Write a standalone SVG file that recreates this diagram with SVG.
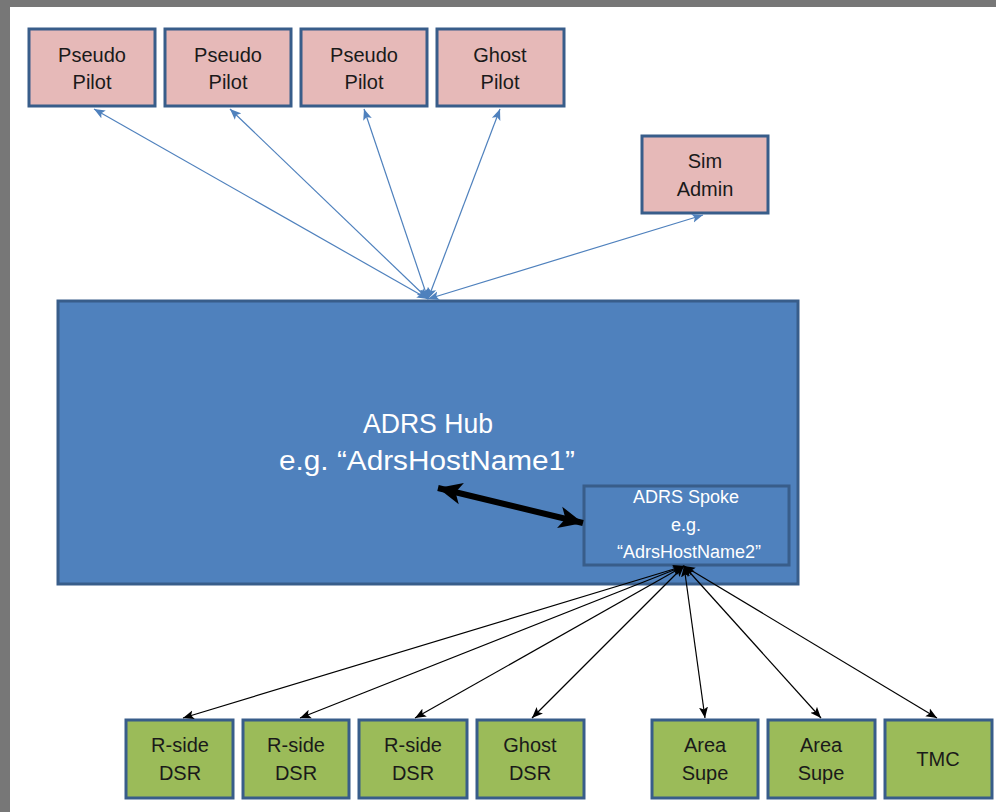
<svg xmlns="http://www.w3.org/2000/svg" width="996" height="812" viewBox="0 0 996 812">
<defs>
<style>
.pink{fill:#E6B9B8;stroke:#385D8A;stroke-width:3}
.green{fill:#9BBB59;stroke:#385D8A;stroke-width:3}
.hub{fill:#4F81BD;stroke:#385D8A;stroke-width:3}
.spoke{fill:#4F81BD;stroke:#385D8A;stroke-width:3}
.t{font-family:"Liberation Sans",Arial,sans-serif;font-size:20px;fill:#1a1a1a;text-anchor:middle}
.w{font-family:"Liberation Sans",Arial,sans-serif;fill:#ffffff;text-anchor:middle}
.bl{stroke:#4F81BD;stroke-width:1.2;fill:none;marker-start:url(#ab);marker-end:url(#ab)}
.bk{stroke:#000;stroke-width:1.2;fill:none;marker-start:url(#ak);marker-end:url(#ak)}
</style>
<marker id="ab" markerUnits="userSpaceOnUse" markerWidth="12" markerHeight="10" viewBox="0 -5 12 10" refX="11" refY="0" orient="auto-start-reverse">
<path d="M0,-4.5 L11,0 L0,4.5 L2.5,0 Z" fill="#4F81BD"/>
</marker>
<marker id="ak" markerUnits="userSpaceOnUse" markerWidth="12" markerHeight="10" viewBox="0 -5 12 10" refX="11" refY="0" orient="auto-start-reverse">
<path d="M0,-4.5 L11,0 L0,4.5 L2.5,0 Z" fill="#000"/>
</marker>
<marker id="at" markerUnits="userSpaceOnUse" markerWidth="26" markerHeight="26" viewBox="0 -13 26 26" refX="24" refY="0" orient="auto-start-reverse">
<path d="M0,-11 L24,0 L0,11 L6,0 Z" fill="#000"/>
</marker>
</defs>
<rect x="0" y="0" width="996" height="812" fill="#ffffff"/>
<rect x="0" y="0" width="996" height="7" fill="#777777"/>
<rect x="0" y="0" width="10" height="812" fill="#777777"/>

<g id="hub">
<rect class="hub" x="58" y="301" width="740" height="283"/>
<text class="w" font-size="27" x="428" y="433" textLength="130" lengthAdjust="spacingAndGlyphs">ADRS Hub</text>
<text class="w" font-size="27" x="427" y="470" textLength="296" lengthAdjust="spacingAndGlyphs">e.g. “AdrsHostName1”</text>
</g>
<g id="spoke">
<rect class="spoke" x="584" y="486" width="205" height="79"/>
<text class="w" font-size="18" x="686" y="503">ADRS Spoke</text>
<text class="w" font-size="18" x="686" y="531">e.g.</text>
<text class="w" font-size="18" x="689" y="558">“AdrsHostName2”</text>
</g>

<g id="pp1"><rect class="pink" x="29" y="29" width="126" height="77"/><text class="t" x="92" y="62">Pseudo</text><text class="t" x="92" y="89">Pilot</text></g>
<g id="pp2"><rect class="pink" x="165" y="29" width="126" height="77"/><text class="t" x="228" y="62">Pseudo</text><text class="t" x="228" y="89">Pilot</text></g>
<g id="pp3"><rect class="pink" x="301" y="29" width="126" height="77"/><text class="t" x="364" y="62">Pseudo</text><text class="t" x="364" y="89">Pilot</text></g>
<g id="gp"><rect class="pink" x="437" y="29" width="127" height="77"/><text class="t" x="500" y="62">Ghost</text><text class="t" x="500" y="89">Pilot</text></g>
<g id="sim"><rect class="pink" x="642" y="136" width="126" height="77"/><text class="t" x="705" y="168">Sim</text><text class="t" x="705" y="196">Admin</text></g>

<g id="r1"><rect class="green" x="126" y="720" width="107" height="78"/><text class="t" x="180" y="752">R-side</text><text class="t" x="180" y="780">DSR</text></g>
<g id="r2"><rect class="green" x="243" y="720" width="106" height="78"/><text class="t" x="296" y="752">R-side</text><text class="t" x="296" y="780">DSR</text></g>
<g id="r3"><rect class="green" x="359" y="720" width="108" height="78"/><text class="t" x="413" y="752">R-side</text><text class="t" x="413" y="780">DSR</text></g>
<g id="gd"><rect class="green" x="477" y="720" width="107" height="78"/><text class="t" x="530" y="752">Ghost</text><text class="t" x="530" y="780">DSR</text></g>
<g id="as1"><rect class="green" x="652" y="720" width="106" height="78"/><text class="t" x="705" y="752">Area</text><text class="t" x="705" y="780">Supe</text></g>
<g id="as2"><rect class="green" x="768" y="720" width="107" height="78"/><text class="t" x="821" y="752">Area</text><text class="t" x="821" y="780">Supe</text></g>
<g id="tmc"><rect class="green" x="885" y="720" width="107" height="78"/><text class="t" x="938" y="766">TMC</text></g>

<g id="connectors">
<line class="bl" x1="428" y1="299" x2="94" y2="109"/>
<line class="bl" x1="428" y1="299" x2="230" y2="109"/>
<line class="bl" x1="428" y1="299" x2="364" y2="109"/>
<line class="bl" x1="428" y1="299" x2="500" y2="109"/>
<line class="bl" x1="428" y1="299" x2="703" y2="215"/>
<line class="bk" x1="684" y1="566" x2="183" y2="718"/>
<line class="bk" x1="684" y1="566" x2="300" y2="718"/>
<line class="bk" x1="684" y1="566" x2="415" y2="718"/>
<line class="bk" x1="684" y1="566" x2="532" y2="718"/>
<line class="bk" x1="684" y1="566" x2="705" y2="718"/>
<line class="bk" x1="684" y1="566" x2="821" y2="718"/>
<line class="bk" x1="684" y1="566" x2="937" y2="718"/>
<line x1="438" y1="488" x2="583" y2="523" stroke="#000" stroke-width="6" marker-start="url(#at)" marker-end="url(#at)"/>
</g>
</svg>
